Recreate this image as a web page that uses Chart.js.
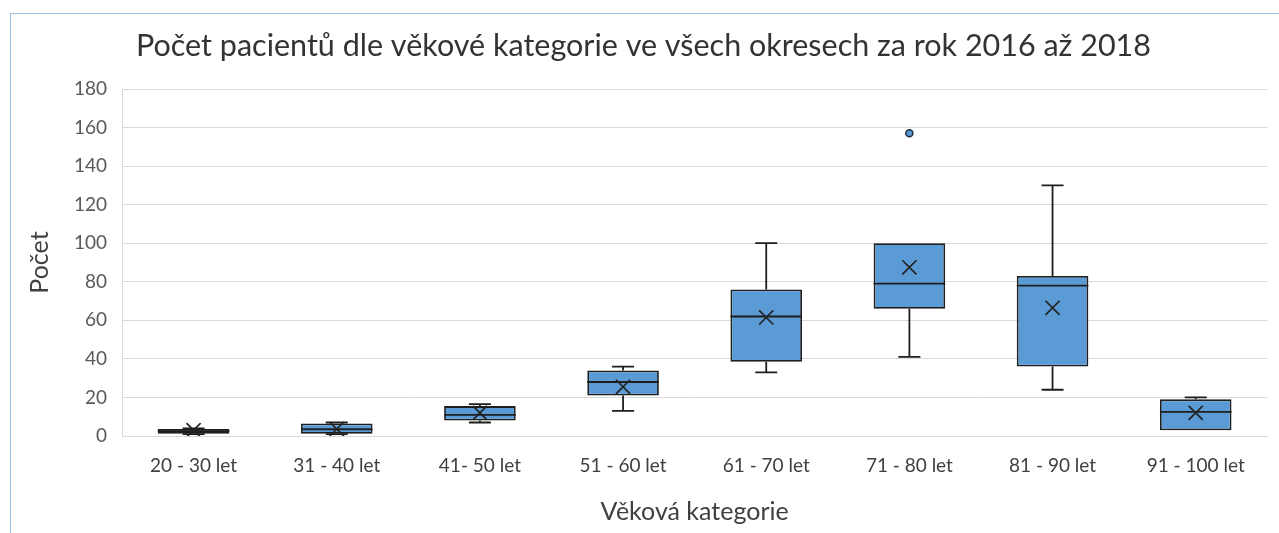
<!DOCTYPE html>
<html>
<head>
<meta charset="utf-8">
<title>Počet pacientů dle věkové kategorie</title>
<script src="https://cdn.jsdelivr.net/npm/chart.js@4/dist/chart.umd.min.js"></script>
<style>
  html, body { margin: 0; padding: 0; background: #fff; overflow: hidden; }
  #frame {
    position: absolute; left: 10px; top: 13px;
    width: 1300px; height: 600px;
    border: 1px solid #9fc0e8;
    background: #fff;
  }
  #wrap { position: absolute; left: 0; top: 0; width: 1268px; height: 519px; }
</style>
</head>
<body>
<div id="frame">
  <div id="wrap"><canvas id="boxChart"></canvas></div>
</div>
<script>
// Age categories and box plot statistics
const categories = ['20 - 30 let', '31 - 40 let', '41- 50 let', '51 - 60 let', '61 - 70 let', '71 - 80 let', '81 - 90 let', '91 - 100 let'];
const minValues    = [1,   1,   7,   13,  33,   41,   24,  3];
const q1Values     = [1.2, 1.2, 8,   21,  38.5, 66,   36,  3];
const medianValues = [2.5, 3.5, 11,  28,  62,   79,   78,  12.5];
const q3Values     = [3.6, 6.5, 15.5, 34, 76,   100,  83,  19];
const maxValues    = [4,   7,   16.5, 36, 100,  100,  130, 20];
const meanValues   = [3,   3.6, 12,  25.5, 61.5, 87.5, 66.5, 12];
const outlierValues = [null, null, null, null, null, 157, null, null];
const yTicks = [0, 20, 40, 60, 80, 100, 120, 140, 160, 180];

const fontFamily = 'Lato, "Open Sans", sans-serif';
const boxBlue = '#5b9bd5';
const lineDark = '#1e1e1e';

// whiskers and median lines, drawn right after the boxes
const whiskerPlugin = {
  id: 'whiskers',
  afterDatasetDraw(chart, args) {
    if (args.index !== 0) return;
    const ctx = chart.ctx;
    const x = chart.scales.x;
    const y = chart.scales.y;
    const meta = chart.getDatasetMeta(0);
    ctx.save();
    ctx.strokeStyle = lineDark;
    ctx.lineWidth = 1.8;
    categories.forEach((c, i) => {
      const cx = x.getPixelForValue(i);
      const bar = meta.data[i];
      const half = bar.width / 2;
      const cap = 11;
      const yMin = y.getPixelForValue(minValues[i]);
      const yMax = y.getPixelForValue(maxValues[i]);
      const yQ1 = y.getPixelForValue(q1Values[i]);
      const yQ3 = y.getPixelForValue(q3Values[i]);
      const yMed = y.getPixelForValue(medianValues[i]);
      ctx.beginPath();
      // upper whisker
      if (maxValues[i] > q3Values[i]) {
        ctx.moveTo(cx, yQ3); ctx.lineTo(cx, yMax);
        ctx.moveTo(cx - cap, yMax); ctx.lineTo(cx + cap, yMax);
      }
      // lower whisker
      if (minValues[i] < q1Values[i]) {
        ctx.moveTo(cx, yQ1); ctx.lineTo(cx, yMin);
        ctx.moveTo(cx - cap, yMin); ctx.lineTo(cx + cap, yMin);
      }
      // median
      ctx.moveTo(cx - half, yMed); ctx.lineTo(cx + half, yMed);
      ctx.stroke();
    });
    ctx.restore();
  }
};

new Chart(document.getElementById('boxChart'), {
  type: 'bar',
  data: {
    labels: categories,
    datasets: [
      {
        label: 'Box',
        data: categories.map((c, i) => [q1Values[i], q3Values[i]]),
        backgroundColor: boxBlue,
        borderColor: lineDark,
        borderWidth: 1.8,
        borderSkipped: false,
        barPercentage: 0.5,
        categoryPercentage: 1,
        order: 3
      },
      {
        type: 'line',
        label: 'Průměr',
        data: meanValues,
        showLine: false,
        pointStyle: 'crossRot',
        pointRadius: 10,
        pointBorderColor: '#222',
        pointBorderWidth: 1.7,
        order: 1
      },
      {
        type: 'line',
        label: 'Odlehlá hodnota',
        data: outlierValues,
        showLine: false,
        pointStyle: 'circle',
        pointRadius: 3.5,
        pointBackgroundColor: boxBlue,
        pointBorderColor: '#1e2f40',
        pointBorderWidth: 1.5,
        order: 2
      }
    ]
  },
  options: {
    responsive: true,
    maintainAspectRatio: false,
    animation: false,
    layout: { padding: { left: 0, right: 3, top: 0, bottom: 0 } },
    plugins: {
      legend: { display: false },
      tooltip: { enabled: false },
      title: {
        display: true,
        text: 'Počet pacientů dle věkové kategorie ve všech okresech za rok 2016 až 2018',
        color: '#333',
        font: { family: fontFamily, size: 30.5, weight: 'normal' },
        padding: { top: 14, bottom: 24.4 }
      }
    },
    scales: {
      x: {
        grid: { display: false, drawTicks: false },
        border: { display: true, color: '#d9d9d9', width: 1 },
        ticks: { color: '#404040', font: { family: fontFamily, size: 19 }, padding: 18, maxRotation: 0 },
        title: {
          display: true,
          text: 'Věková kategorie',
          color: '#404040',
          font: { family: fontFamily, size: 25 },
          padding: { top: 0, bottom: 6 }
        },
        afterFit: s => { s.height = 97; }
      },
      y: {
        min: 0,
        max: 180,
        afterBuildTicks: s => { s.ticks = yTicks.map(v => ({ value: v })); },
        grid: { color: '#d9d9d9', lineWidth: 1, drawTicks: false },
        border: { display: true, color: '#d9d9d9', width: 1 },
        ticks: { color: '#595959', font: { family: fontFamily, size: 19 }, padding: 15 },
        title: {
          display: true,
          text: 'Počet',
          color: '#404040',
          font: { family: fontFamily, size: 25 },
          padding: { top: 14, bottom: 0 }
        },
        afterFit: s => { s.width = 111; }
      }
    }
  },
  plugins: [whiskerPlugin]
});
</script>
</body>
</html>
